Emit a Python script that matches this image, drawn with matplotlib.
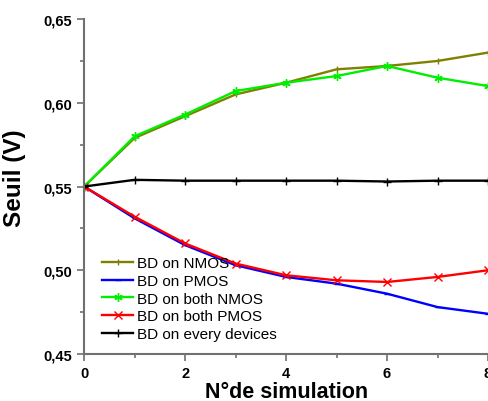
import matplotlib
matplotlib.use("Agg")
import matplotlib.pyplot as plt
from matplotlib.ticker import MultipleLocator, FuncFormatter

x = [0, 1, 2, 3, 4, 5, 6, 7, 8]
nmos = [0.550, 0.579, 0.592, 0.605, 0.612, 0.620, 0.622, 0.625, 0.630]
pmos = [0.550, 0.531, 0.515, 0.503, 0.496, 0.492, 0.486, 0.478, 0.474]
both_nmos = [0.550, 0.580, 0.593, 0.607, 0.612, 0.616, 0.622, 0.615, 0.610]
both_pmos = [0.550, 0.532, 0.516, 0.504, 0.497, 0.494, 0.493, 0.496, 0.500]
every = [0.550, 0.554, 0.5535, 0.5535, 0.5535, 0.5535, 0.553, 0.5535, 0.5535]
labels = ["BD on NMOS", "BD on PMOS", "BD on both NMOS", "BD on both PMOS", "BD on every devices"]

plt.rcParams['font.family'] = ['Liberation Sans', 'DejaVu Sans']
fig = plt.figure(figsize=(4.89, 4.02), dpi=100)
ax = fig.add_axes([0.172, 0.117, 0.826, 0.833])

lw = 1.7
ax.plot(x, nmos, color='#808000', lw=lw, marker='|', ms=5, mew=1, label=labels[0])
ax.plot(x, pmos, color='#0000ff', lw=lw, marker='_', ms=5, mew=1, label=labels[1])
ax.plot(x, both_nmos, color='#00ee00', lw=lw, marker=(6, 2, 0), ms=6, mew=1, label=labels[2])
ax.plot(x, both_pmos, color='#ff0000', lw=lw, marker='x', ms=5.5, mew=1, label=labels[3])
ax.plot(x, every, color='#000000', lw=lw, marker='+', ms=5.5, mew=1, label=labels[4])

ax.set_xlim(0, 8)
ax.set_ylim(0.45, 0.65)
ax.xaxis.set_major_locator(MultipleLocator(2))
ax.xaxis.set_minor_locator(MultipleLocator(1))
ax.yaxis.set_major_locator(MultipleLocator(0.05))
ax.yaxis.set_minor_locator(MultipleLocator(0.025))
ax.yaxis.set_major_formatter(FuncFormatter(lambda v, p: f"{v:.2f}".replace('.', ',')))

for s in ['top', 'right']:
    ax.spines[s].set_visible(False)
for s in ['left', 'bottom']:
    ax.spines[s].set_color('#707070')
    ax.spines[s].set_linewidth(1.5)
ax.tick_params(which='major', direction='out', length=5, width=1.2, color='#707070',
               labelsize=10.5)
ax.tick_params(which='minor', direction='out', length=3, width=1.2, color='#707070')
for lab in ax.get_xticklabels() + ax.get_yticklabels():
    lab.set_fontweight('bold')

ax.set_ylabel("Seuil (V)", fontsize=17.5, fontweight='bold', labelpad=8)
ax.yaxis.set_label_coords(-0.145, 0.528)
ax.set_xlabel("N°de simulation", fontsize=15.5, fontweight='bold', labelpad=1)

leg = ax.legend(loc='upper left', bbox_to_anchor=(0.03, 0.31), frameon=False, fontsize=11,
                handlelength=2.0, handletextpad=0.3, labelspacing=0.24, borderaxespad=0)

fig.savefig("out.png", dpi=100)
